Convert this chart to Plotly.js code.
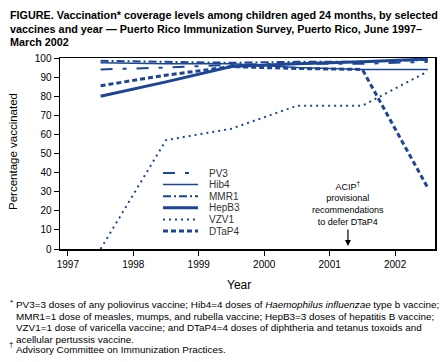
<!DOCTYPE html>
<html>
<head>
<meta charset="utf-8">
<script src="https://cdn.plot.ly/plotly-3.0.1.min.js"></script>
<style>html,body{margin:0;padding:0;background:#fff;}#chart{width:446px;height:362px;}</style>
</head>
<body>
<div id="chart"></div>
<script>
// ---- data ----
const years = [1997.5, 1998.5, 1999.5, 2000.5, 2001.5, 2002.5];
const seriesNames = ['PV3', 'Hib4', 'MMR1', 'HepB3', 'VZV1', 'DTaP4'];
const pv3   = [94, 95, 96.5, 97, 97, 98];
const hib4  = [97.5, 97, 97, 95, 94, 94];
const mmr1  = [98.5, 98, 97.5, 98, 98, 99];
const hepb3 = [80, 87.5, 95.5, 97, 98, 99.5];
const vzv1  = [0, 57, 63, 75, 75, 93];
const dtap4 = [85.5, 91, 95.5, 94.5, 94, 32];
const xTicks = [1997, 1998, 1999, 2000, 2001, 2002];
const yTicks = [0, 10, 20, 30, 40, 50, 60, 70, 80, 90, 100];
const acipYear = 2001.28;

// ---- styles ----
const BLUE = '#1c4695';
const FONT = '"Liberation Sans", Arial, Helvetica, sans-serif';
const styles = [
  {dash: '12px,10px,4px,10px', width: 2},
  {dash: 'solid', width: 1.5},
  {dash: '8px,3px,2px,3px', width: 2},
  {dash: 'solid', width: 3},
  {dash: '2px,4px', width: 2},
  {dash: '5px,3px', width: 3}
];
const values = [pv3, hib4, mmr1, hepb3, vzv1, dtap4];

const traces = values.map((v, i) => ({
  x: years, y: v, name: seriesNames[i], type: 'scatter', mode: 'lines',
  line: {color: BLUE, dash: styles[i].dash, width: styles[i].width},
  showlegend: false, hoverinfo: 'skip'
}));

// plot area in pixels
const L = 60, R = 11, T = 58, B = 113, W = 446, H = 362;
const pw = W - L - R, ph = H - T - B;
const px = x => (x - L) / pw;
const py = y => (H - B - y) / ph;

const annotations = [];
const shapes = [];

// title lines
const titleLines = [
  'FIGURE. Vaccination* coverage levels among children aged 24 months, by selected',
  'vaccines and year \u2014 Puerto Rico Immunization Survey, Puerto Rico, June 1997\u2013',
  'March 2002'
];
const titleY = [15, 28.5, 41.5];
titleLines.forEach((t, i) => annotations.push({
  text: '<b>' + t + '</b>', xref: 'paper', yref: 'paper', x: px(8), y: py(titleY[i]),
  xanchor: 'left', yanchor: 'middle', showarrow: false,
  font: {family: FONT, size: 10.8, color: '#000'}
}));

// legend (drawn)
const legY0 = 173, legDy = 11.6;
seriesNames.forEach((n, i) => {
  const yy = py(legY0 + i * legDy);
  shapes.push({type: 'line', xref: 'paper', yref: 'paper', x0: px(163), x1: px(198), y0: yy, y1: yy,
    line: {color: BLUE, dash: styles[i].dash, width: styles[i].width}});
  annotations.push({text: n, xref: 'paper', yref: 'paper', x: px(207), y: yy, xanchor: 'left', yanchor: 'middle',
    showarrow: false, font: {family: FONT, size: 10, color: '#333'}});
});

// ACIP note
annotations.push({
  text: 'ACIP<sup>\u2020</sup><br>provisional<br>recommendations<br>to defer DTaP4',
  xref: 'paper', yref: 'paper', x: px(348), y: py(203.5), xanchor: 'center', yanchor: 'middle',
  showarrow: false, font: {family: FONT, size: 9, color: '#000'}
});
annotations.push({
  text: ' ', x: acipYear, y: 1.6, xref: 'x', yref: 'y', showarrow: true,
  ax: 0, ay: -19, arrowhead: 2, arrowsize: 1, arrowwidth: 1.2, arrowcolor: '#000',
  font: {size: 2}
});

// axis titles
annotations.push({text: 'Year', xref: 'paper', yref: 'paper', x: px(239), y: py(285), xanchor: 'center', yanchor: 'middle',
  showarrow: false, font: {family: FONT, size: 12, color: '#000'}});
annotations.push({text: 'Percentage vaccinated', xref: 'paper', yref: 'paper', x: px(13), y: py(152), xanchor: 'center', yanchor: 'middle',
  textangle: -90, showarrow: false, font: {family: FONT, size: 11.5, color: '#000'}});

// footnotes
const footLines = [
  'PV3=3 doses of any poliovirus vaccine; Hib4=4 doses of <i>Haemophilus influenzae</i> type b vaccine;',
  'MMR1=1 dose of measles, mumps, and rubella vaccine; HepB3=3 doses of hepatitis B vaccine;',
  'VZV1=1 dose of varicella vaccine; and DTaP4=4 doses of diphtheria and tetanus toxoids and',
  'acellular pertussis vaccine.',
  'Advisory Committee on Immunization Practices.'
];
const footY = [304, 316, 327.5, 339, 349.5];
footLines.forEach((t, i) => annotations.push({
  text: t, xref: 'paper', yref: 'paper', x: px(14), y: py(footY[i]), xanchor: 'left', yanchor: 'middle',
  showarrow: false, font: {family: FONT, size: 9.9, color: '#000'}
}));
annotations.push({text: '*', xref: 'paper', yref: 'paper', x: px(8), y: py(302), xanchor: 'left', yanchor: 'middle',
  showarrow: false, font: {family: FONT, size: 8, color: '#000'}});
annotations.push({text: '\u2020', xref: 'paper', yref: 'paper', x: px(7), y: py(344), xanchor: 'left', yanchor: 'middle',
  showarrow: false, font: {family: FONT, size: 8, color: '#000'}});

const layout = {
  width: W, height: H,
  margin: {l: L, r: R, t: T, b: B, pad: 0},
  paper_bgcolor: '#fff', plot_bgcolor: '#fff',
  font: {family: FONT, size: 10, color: '#000'},
  showlegend: false,
  xaxis: {
    range: [1996.88, 2002.61], tickvals: xTicks, ticktext: xTicks.map(String),
    ticks: 'outside', ticklen: 5, tickwidth: 1, tickcolor: '#000',
    showline: true, linecolor: '#000', linewidth: 1.5, mirror: true,
    showgrid: false, zeroline: false, tickfont: {family: FONT, size: 10, color: '#000'}
  },
  yaxis: {
    range: [0, 100], tickvals: yTicks, ticks: 'outside', ticklen: 5, tickwidth: 1, tickcolor: '#000',
    showline: true, linecolor: '#000', linewidth: 1.5, mirror: true,
    showgrid: false, zeroline: false, tickfont: {family: FONT, size: 10, color: '#000'}
  },
  annotations: annotations,
  shapes: shapes
};

Plotly.newPlot('chart', traces, layout, {staticPlot: true, displayModeBar: false});
</script>
</body>
</html>
